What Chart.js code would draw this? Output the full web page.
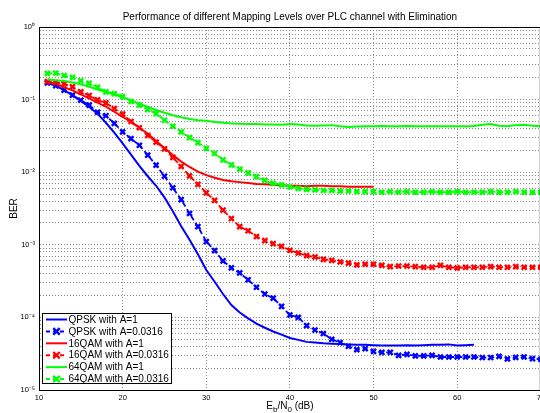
<!DOCTYPE html>
<html><head><meta charset="utf-8">
<script src="https://cdn.jsdelivr.net/npm/chart.js@4"></script>
<style>html,body{margin:0;padding:0;background:#fff;overflow:hidden;width:540px;height:413px}canvas{display:block}</style>
</head><body><canvas id="c" width="548" height="413"></canvas>
<script>
const snr = [11,12,13,14,15,16,17,18,19,20,21,22,23,24,25,26,27,28,29,30,31,32,33,34,35,36,37,38,39,40,41,42,43,44,45,46,47,48,49,50,51,52,53,54,55,56,57,58,59,60,61,62,63,64,65,66,67,68,69,70];

const qpskA1 = [0.17,0.155,0.135,0.115,0.096,0.079,0.064,0.048,0.035,0.025,0.0175,0.0122,0.0088,0.0065,0.0045,0.0029,0.0018,0.00117,0.00074,0.00045,0.00031,0.00021,0.000148,0.000117,0.000097,0.000082,0.000072,0.000064,0.000058,0.000052,0.000049,0.000046,0.000045,0.000044,0.0000435,0.000043,0.0000425,0.000042,0.000042,0.0000415,0.000041,0.000041,0.000041,0.0000412,0.000041,0.0000415,0.000042,0.000042,0.0000425,0.000041,0.0000415,0.000042];
const qpskA0316 = [0.17,0.155,0.135,0.115,0.098,0.084,0.067,0.06,0.047,0.036,0.029,0.0235,0.0172,0.0125,0.0088,0.0061,0.0042,0.0027,0.00178,0.00111,0.00083,0.0006,0.00048,0.00041,0.00033,0.00026,0.00021,0.000184,0.000142,0.000108,0.0001,0.000077,0.000067,0.00006,0.00005,0.000045,0.00004,0.000036,0.000037,0.000034,0.000033,0.000033,0.00003,0.000031,0.0000295,0.0000295,0.00003,0.0000285,0.0000285,0.0000285,0.0000285,0.0000285,0.000028,0.000028,0.000029,0.0000268,0.0000282,0.0000285,0.000027,0.0000265];
const qam16A1 = [0.177,0.165,0.148,0.134,0.118,0.104,0.091,0.08,0.068,0.058,0.049,0.041,0.034,0.027,0.0215,0.0172,0.014,0.0118,0.0102,0.0091,0.0084,0.0078,0.0075,0.0073,0.0071,0.0069,0.0068,0.0067,0.0066,0.0065,0.0065,0.0064,0.0065,0.0065,0.0064,0.0064,0.0063,0.0063,0.0063,0.0063];
const qam16A0316 = [0.177,0.172,0.165,0.15,0.128,0.114,0.099,0.09,0.075,0.063,0.05,0.041,0.032,0.026,0.021,0.016,0.012,0.0089,0.0068,0.0052,0.0041,0.003,0.0023,0.00178,0.00156,0.0013,0.00114,0.00104,0.00095,0.00084,0.00077,0.00071,0.00068,0.00063,0.00061,0.00058,0.00056,0.00053,0.00054,0.00054,0.00052,0.0005,0.00051,0.00051,0.0005,0.00049,0.00049,0.00052,0.00049,0.00048,0.00049,0.00049,0.00049,0.0005,0.00049,0.00049,0.0005,0.00049,0.00049,0.00049];
const qam64A1 = [0.19,0.185,0.18,0.172,0.163,0.15,0.138,0.127,0.117,0.108,0.098,0.088,0.079,0.072,0.066,0.061,0.057,0.054,0.052,0.051,0.049,0.048,0.047,0.0465,0.046,0.046,0.0455,0.0455,0.045,0.046,0.0455,0.044,0.0435,0.044,0.0445,0.043,0.042,0.0425,0.043,0.043,0.0432,0.0428,0.043,0.0432,0.043,0.0428,0.043,0.043,0.0428,0.043,0.043,0.0432,0.045,0.046,0.0435,0.043,0.0445,0.045,0.0435,0.043];
const qam64A0316 = [0.23,0.232,0.215,0.203,0.182,0.168,0.148,0.128,0.121,0.11,0.094,0.084,0.073,0.064,0.052,0.043,0.036,0.03,0.0256,0.0213,0.0182,0.0148,0.0126,0.011,0.0098,0.0087,0.0077,0.007,0.0067,0.0063,0.006,0.0058,0.0057,0.0056,0.0056,0.0055,0.0055,0.0054,0.0054,0.0054,0.0053,0.0054,0.0053,0.0054,0.0053,0.0053,0.0054,0.0053,0.0053,0.0054,0.0053,0.0053,0.0053,0.0054,0.0053,0.0053,0.0054,0.0053,0.0053,0.0053];

const seriesLabels = ['QPSK with A=1','QPSK with A=0.0316','16QAM with A=1','16QAM with A=0.0316','64QAM with A=1','64QAM with A=0.0316'];
const xTicks = [10,20,30,40,50,60,70];
const titleText = 'Performance of different Mapping Levels over PLC channel with Elimination';
const yTitle = 'BER';

const FONT = '"Liberation Sans", Arial, Helvetica, sans-serif';
const pts = vals => vals.map((v,i)=>({x:snr[i], y:v}));

function mk(label, vals, color, dashed, order){
  return {
    label, data: pts(vals), borderColor: color, backgroundColor: color,
    borderWidth: dashed ? 1.8 : 2, borderDash: dashed ? [5,3] : [],
    pointStyle: 'crossRot', pointRadius: dashed ? 3.5 : 0, pointBorderWidth: 2.4,
    pointBorderColor: color, pointHoverRadius: 0, fill: false, tension: 0, order,
    _dashed: dashed
  };
}

const datasets = [
  mk(seriesLabels[0], qpskA1, '#0000ff', false, 5),
  mk(seriesLabels[1], qpskA0316, '#0000ff', true, 4),
  mk(seriesLabels[2], qam16A1, '#ff0000', false, 3),
  mk(seriesLabels[3], qam16A0316, '#ff0000', true, 2),
  mk(seriesLabels[4], qam64A1, '#00ff00', false, 1),
  mk(seriesLabels[5], qam64A0316, '#00ff00', true, 0)
];

const sup = {'0':'⁰','1':'¹','2':'²','3':'³','4':'⁴','5':'⁵','6':'⁶','-':'⁻'};
const supStr = s => String(s).split('').map(c=>sup[c]||c).join('');

const deco = {
  id: 'deco',
  afterDraw(chart){
    const ctx = chart.ctx, ca = chart.chartArea;
    ctx.save();
    ctx.strokeStyle = '#000'; ctx.lineWidth = 1;
    ctx.beginPath(); ctx.moveTo(ca.left, ca.top+0.5); ctx.lineTo(ca.right, ca.top+0.5); ctx.stroke();
    ctx.beginPath(); ctx.moveTo(ca.right-0.5, ca.top); ctx.lineTo(ca.right-0.5, ca.bottom); ctx.stroke();
    ctx.fillStyle = '#000';
    ctx.font = '10px ' + FONT;
    ctx.textAlign = 'center'; ctx.textBaseline = 'middle';
    ctx.fillText(titleText, (ca.left+ca.right)/2, 17);
    ctx.save();
    ctx.translate(14, (ca.top+ca.bottom)/2);
    ctx.rotate(-Math.PI/2);
    ctx.font = '10px ' + FONT;
    ctx.fillText(yTitle, 0, 0);
    ctx.restore();
    const parts = [['E',0],['b',1],['/N',0],['0',1],[' (dB)',0]];
    let total = 0;
    parts.forEach(p=>{ ctx.font = (p[1]?'8px ':'10px ')+FONT; total += ctx.measureText(p[0]).width; });
    let x = (ca.left+ca.right)/2 - total/2;
    ctx.textAlign = 'left'; ctx.textBaseline = 'alphabetic';
    parts.forEach(p=>{
      ctx.font = (p[1]?'8px ':'10px ')+FONT;
      ctx.fillText(p[0], x, p[1] ? 412 : 409);
      x += ctx.measureText(p[0]).width;
    });
    const bx = 42, by = 313, bw = 129, bh = 70;
    ctx.fillStyle = '#fff';
    ctx.fillRect(bx, by, bw, bh);
    ctx.strokeStyle = '#000'; ctx.lineWidth = 1;
    ctx.strokeRect(bx+0.5, by+0.5, bw, bh);
    chart.data.datasets.forEach((ds,i)=>{
      const yy = 319.5 + i*11.9;
      ctx.strokeStyle = ds.borderColor;
      ctx.lineWidth = 2;
      ctx.setLineDash(ds._dashed ? [4,3] : []);
      ctx.beginPath(); ctx.moveTo(46, yy); ctx.lineTo(67, yy); ctx.stroke();
      ctx.setLineDash([]);
      if (ds._dashed){
        const r = 3.2;
        ctx.lineWidth = 2.4;
        ctx.beginPath();
        ctx.moveTo(56.5-r, yy-r); ctx.lineTo(56.5+r, yy+r);
        ctx.moveTo(56.5-r, yy+r); ctx.lineTo(56.5+r, yy-r);
        ctx.stroke();
      }
      ctx.fillStyle = '#000';
      ctx.font = '10px ' + FONT;
      ctx.textBaseline = 'middle';
      ctx.fillText(ds.label, 68.5, yy+0.5);
    });
    ctx.restore();
  }
};

const yTickVals = [];
for (let e=-5;e<=0;e++){ for (let m=1;m<=9;m++){ const v = m*Math.pow(10,e); if (v<=1.0000001) yTickVals.push(v); } }

new Chart(document.getElementById('c'), {
  type: 'line',
  data: { datasets },
  options: {
    responsive: false, animation: false, devicePixelRatio: 1,
    layout: { padding: { top: 27, right: 5, left: 0, bottom: 0 } },
    plugins: { legend: { display: false }, tooltip: { enabled: false }, title: { display: false } },
    scales: {
      x: {
        type: 'linear', min: 10, max: 70,
        afterBuildTicks(s){ s.ticks = xTicks.map(v=>({value:v})); },
        afterFit(s){ s.height = 23; },
        ticks: { autoSkip: false, maxRotation: 0, padding: 3, color: '#000', font: { size: 7.5, family: FONT } },
        grid: { color: '#8a8a8a', lineWidth: 1, drawTicks: false },
        border: { display: true, color: '#000', width: 1, dash: [1,2] }
      },
      y: {
        type: 'logarithmic', min: 1e-5, max: 1,
        afterBuildTicks(s){ s.ticks = yTickVals.map(v=>({value:v})); },
        afterFit(s){ s.width = 39; },
        ticks: {
          autoSkip: false, padding: 4, color: '#000', font: { size: 7.5, family: FONT },
          callback(v){ const e = Math.log10(v); return Math.abs(e-Math.round(e))<1e-6 ? '10' + supStr(Math.round(e)) : ''; }
        },
        grid: { color: '#8a8a8a', lineWidth: 1, drawTicks: false },
        border: { display: true, color: '#000', width: 1, dash: [1,2] }
      }
    }
  },
  plugins: [deco]
});
</script>
</body></html>
